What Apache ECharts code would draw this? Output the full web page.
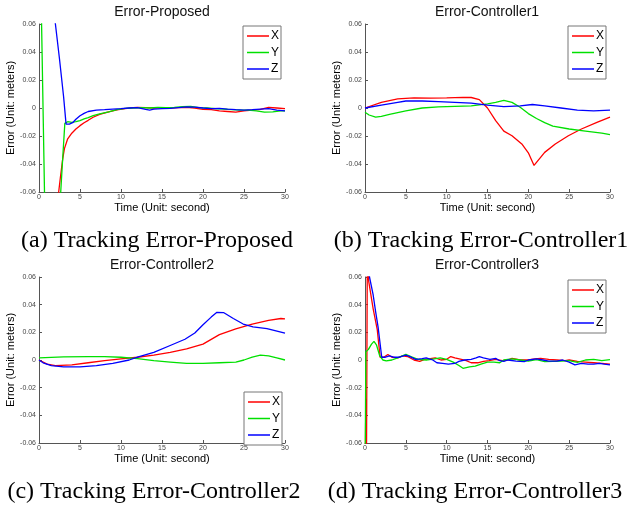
<!DOCTYPE html>
<html><head><meta charset="utf-8">
<script src="https://cdn.jsdelivr.net/npm/echarts/dist/echarts.min.js"></script>
<style>html,body{margin:0;padding:0;background:#fff}#c{width:629px;height:515px}</style>
</head><body><div id="c"></div>
<script>
// ---------- labels ----------
const panelTitles = ['Error-Proposed', 'Error-Controller1', 'Error-Controller2', 'Error-Controller3'];
const captions = ['(a) Tracking Error-Proposed', '(b) Tracking Error-Controller1', '(c) Tracking Error-Controller2', '(d) Tracking Error-Controller3'];
const seriesNames = ['X', 'Y', 'Z'];
const xTicks = [0, 5, 10, 15, 20, 25, 30];
const yTicks = [-0.06, -0.04, -0.02, 0, 0.02, 0.04, 0.06];
const xName = 'Time (Unit: second)';
const yName = 'Error (Unit: meters)';

// ---------- (a) Proposed ----------
const propXt = [2.3, 2.6, 2.9, 3.1, 3.5, 4, 4.5, 5, 5.5, 6, 6.6, 7.4, 8.5, 9.5, 10.5, 11.5, 12, 13, 14, 15, 16, 17, 18, 19, 20, 21, 22, 23, 24, 25, 26, 27, 28, 29, 30];
const propXv = [-0.065, -0.05, -0.036, -0.029, -0.022, -0.018, -0.015, -0.0126, -0.0105, -0.0088, -0.0066, -0.0045, -0.0028, -0.0013, -0.0004, 0.0002, 0.0004, 0.0002, 0.0, 0.0002, 0.0, 0.0003, 0.0005, 0.0, -0.001, -0.0012, -0.002, -0.0025, -0.003, -0.002, -0.0015, -0.001, 0.0004, 0.0, -0.0005];
const propYt = [0, 0.3, 0.7, 2.4, 2.65, 2.9, 3.15, 3.5, 4, 4.5, 5, 5.5, 6, 6.6, 7.4, 8.5, 9.5, 10.5, 11.5, 12.5, 13.5, 14.5, 15.5, 16.5, 17.5, 18.5, 19.5, 20.5, 21.5, 22.5, 23.5, 24.5, 25.5, 26.5, 27.5, 28.5, 29.5, 30];
const propYv = [0.08, 0.065, -0.07, -0.075, -0.06, -0.035, -0.011, -0.0098, -0.0102, -0.0098, -0.009, -0.0078, -0.0068, -0.0055, -0.0042, -0.0027, -0.0012, -0.0002, 0.0, 0.0003, 0.0, 0.0005, 0.0003, 0.0005, 0.001, 0.0012, 0.0003, 0.0, -0.0005, -0.0008, -0.0012, -0.0015, -0.0015, -0.002, -0.003, -0.0028, -0.002, -0.002];
const propZt = [1.9, 2.0, 2.5, 3.0, 3.3, 3.7, 4.1, 4.5, 5, 5.5, 6, 7, 8, 9, 10, 11, 12, 13, 13.5, 14, 15, 16, 17, 18, 19, 20, 21, 22, 23, 24, 25, 26, 27, 28, 29, 30];
const propZv = [0.065, 0.06, 0.035, 0.008, -0.0115, -0.0115, -0.0105, -0.008, -0.0055, -0.0038, -0.0025, -0.0015, -0.0012, -0.0008, -0.0005, 0.0, 0.0002, -0.001, -0.0015, -0.0008, -0.0005, -0.0002, 0.0003, 0.0008, 0.0006, 0.0, -0.0005, -0.0003, -0.0008, -0.0012, -0.0015, -0.0012, -0.0008, -0.0005, -0.0015, -0.002];

// ---------- (b) Controller1 ----------
const c1Xt = [0, 2, 4, 6, 8, 10, 12, 13, 14, 15, 16, 17, 18, 19.2, 20, 20.7, 22, 23.3, 24.9, 26.5, 28.4, 30];
const c1Xv = [0, 0.004, 0.0065, 0.0072, 0.007, 0.0072, 0.0076, 0.0075, 0.006, 0.0, -0.009, -0.0165, -0.0198, -0.0257, -0.032, -0.041, -0.0317, -0.0257, -0.0198, -0.015, -0.0102, -0.0065];
const c1Yt = [0, 0.5, 1.3, 2, 3, 5, 7, 9, 11, 13, 15, 16, 17, 18, 19, 20, 21, 22, 23, 25, 27, 29, 30];
const c1Yv = [-0.003, -0.005, -0.0065, -0.006, -0.0045, -0.002, 0.0, 0.0008, 0.0012, 0.0015, 0.003, 0.004, 0.0055, 0.004, 0.0005, -0.004, -0.0075, -0.0105, -0.013, -0.015, -0.0165, -0.018, -0.019];
const c1Zt = [0, 2, 4, 5, 7, 9, 11, 13, 15, 17, 19, 20.5, 22, 24, 26, 28, 30];
const c1Zv = [0, 0.002, 0.004, 0.005, 0.005, 0.0045, 0.004, 0.0035, 0.002, 0.001, 0.0015, 0.0025, 0.0015, 0.0, -0.0015, -0.002, -0.0015];

// ---------- (c) Controller2 ----------
const c2Xt = [0, 1, 2, 4, 6, 8, 10, 12, 14, 16, 18, 20, 22, 24, 26, 28, 29.5, 30];
const c2Xv = [0, -0.003, -0.004, -0.0035, -0.002, -0.0005, 0.0008, 0.002, 0.0035, 0.0055, 0.008, 0.0115, 0.0183, 0.0225, 0.026, 0.0287, 0.03, 0.0297];
const c2Yt = [0, 3, 6, 8, 10, 12, 14, 16, 18, 20, 22, 24, 25, 26, 27, 28, 29, 30];
const c2Yv = [0.0015, 0.0022, 0.0025, 0.0025, 0.002, 0.001, -0.0005, -0.0015, -0.0025, -0.0025, -0.002, -0.0015, 0.0, 0.002, 0.0035, 0.003, 0.0015, 0.0];
const c2Zt = [0, 0.5, 1.5, 3, 5, 7, 9, 11, 12, 14, 16, 17.8, 19, 20, 21, 21.7, 22.5, 23.7, 24.9, 26.1, 27.8, 30];
const c2Zv = [0, -0.002, -0.004, -0.005, -0.005, -0.004, -0.0025, 0.0, 0.002, 0.0055, 0.0105, 0.015, 0.0195, 0.0255, 0.031, 0.0345, 0.0343, 0.03, 0.026, 0.0239, 0.0227, 0.0195];

// ---------- (d) Controller3 ----------
const c3Xt = [0, 0.1, 0.18, 0.28, 0.45, 1.0, 1.5, 1.85, 2.3, 2.8, 3.3, 4, 4.6, 5.2, 6, 6.7, 7.3, 8, 8.6, 9.3, 10, 10.5, 11, 11.8, 12.4, 13, 13.8, 14.5, 15.2, 16, 16.8, 17.5, 18, 19, 20, 20.8, 21.5, 22.5, 23.5, 24.5, 25, 26, 27, 28, 29, 30];
const c3Xv = [-0.1, -0.028, -0.075, 0.07, 0.057, 0.037, 0.022, 0.002, 0.002, 0.004, 0.002, 0.0015, 0.003, 0.0025, 0.0, -0.001, 0.0005, 0.001, 0.0015, 0.0, 0.0005, 0.0025, 0.0015, 0.0005, -0.0005, -0.002, -0.002, -0.001, -0.0005, 0.0005, -0.0005, 0.0, 0.0012, 0.0, 0.0, 0.0008, 0.0012, 0.0005, 0.0, -0.0005, 0.0, -0.001, -0.0015, -0.002, -0.0025, -0.003];
const c3Yt = [0, 0.1, 0.4, 0.8, 1.1, 1.4, 1.8, 2.2, 2.6, 3.3, 4, 4.5, 5, 5.7, 6.5, 7.5, 8.5, 9.2, 10, 10.8, 11.5, 12, 12.8, 13.5, 14.2, 15, 15.8, 16.5, 17, 18, 19, 20, 21, 22, 23, 24, 25, 26, 27, 28, 29, 30];
const c3Yv = [-0.1, 0.006, 0.0075, 0.0115, 0.0135, 0.011, 0.003, 0.0, -0.0006, 0.0, 0.0015, 0.0028, 0.004, 0.0022, 0.0005, 0.0, 0.0008, 0.0015, 0.0005, -0.0015, -0.004, -0.006, -0.005, -0.0045, -0.003, -0.0015, -0.0015, -0.002, 0.0, 0.0008, 0.0, -0.0008, 0.0002, -0.0012, -0.001, -0.0008, -0.0005, -0.0018, 0.0, 0.0005, -0.0005, 0.0003];
const c3Zt = [0.45, 0.55, 1.0, 1.3, 1.6, 2.05, 2.5, 3, 3.5, 4.2, 5, 5.5, 6.2, 7, 7.5, 8.3, 8.8, 9.5, 10.2, 11, 11.5, 12.2, 13, 13.6, 14, 14.5, 15.3, 16, 16.5, 17, 17.5, 18.5, 19.5, 20, 21, 21.8, 22.5, 23.5, 24.2, 25, 25.7, 26.5, 27.3, 28, 28.7, 29.3, 30];
const c3Zv = [0.065, 0.06, 0.047, 0.035, 0.024, 0.002, 0.002, 0.003, 0.002, 0.002, 0.0035, 0.0025, 0.0005, 0.001, 0.0015, 0.0, -0.002, -0.0025, -0.003, -0.0025, -0.001, 0.0, 0.0005, 0.0015, 0.0025, 0.0015, 0.0005, 0.0012, -0.0005, -0.001, 0.0, -0.0008, -0.0012, 0.0, 0.0008, 0.0, -0.0008, -0.0008, 0.0, -0.0015, -0.0035, -0.0025, -0.003, -0.003, -0.0025, -0.003, -0.0035];

// ---------- layout ----------
const colors = ['#ff0000', '#00e000', '#0000ff'];
const sans = '"Liberation Sans", Arial, sans-serif';
const serif = '"Liberation Serif", "Times New Roman", serif';
const zip = (t, v) => t.map((x, i) => [x, v[i]]);
const panelData = [
  [[propXt, propXv], [propYt, propYv], [propZt, propZv]],
  [[c1Xt, c1Xv], [c1Yt, c1Yv], [c1Zt, c1Zv]],
  [[c2Xt, c2Xv], [c2Yt, c2Yv], [c2Zt, c2Zv]],
  [[c3Xt, c3Xv], [c3Yt, c3Yv], [c3Zt, c3Zv]]
];
const grids = [
  {left: 39, top: 24, width: 246, height: 168},
  {left: 365, top: 24, width: 245, height: 168},
  {left: 39, top: 277, width: 246, height: 166},
  {left: 365, top: 277, width: 245, height: 166}
];
const legendPos = [
  {left: 243, top: 26}, {left: 568, top: 26}, {left: 244, top: 392}, {left: 568, top: 280}
];
const titlePos = [[162, 12], [487, 12], [162, 265], [487, 265]];
const captionPos = [[157, 241], [481, 241], [154, 492], [475, 492]];

const option = {
  animation: false,
  backgroundColor: '#fff',
  grid: grids.map(g => Object.assign({containLabel: false}, g)),
  xAxis: grids.map((g, i) => ({
    type: 'value', gridIndex: i, min: xTicks[0], max: xTicks[xTicks.length - 1], interval: 5,
    name: xName, nameLocation: 'middle', nameGap: 10,
    nameTextStyle: {fontSize: 11, color: '#000', fontFamily: sans},
    axisLine: {show: true, onZero: false, lineStyle: {color: '#555', width: 1}},
    axisTick: {show: true, inside: true, length: 3, lineStyle: {color: '#555'}},
    axisLabel: {fontSize: 7, color: '#444', margin: 2, fontFamily: sans},
    splitLine: {show: false}
  })),
  yAxis: grids.map((g, i) => ({
    type: 'value', gridIndex: i, min: yTicks[0], max: yTicks[yTicks.length - 1], interval: 0.02,
    name: yName, nameLocation: 'middle', nameGap: 20, nameRotate: 90,
    nameTextStyle: {fontSize: 11, color: '#000', fontFamily: sans},
    axisLine: {show: true, onZero: false, lineStyle: {color: '#555', width: 1}},
    axisTick: {show: true, inside: true, length: 3, lineStyle: {color: '#555'}},
    axisLabel: {fontSize: 7, color: '#444', margin: 3, fontFamily: sans,
      formatter: v => Math.abs(v) < 1e-9 ? '0' : v.toFixed(2)},
    splitLine: {show: false}
  })),
  legend: legendPos.map(p => ({
    left: p.left, top: p.top, orient: 'vertical', data: seriesNames, selectedMode: false,
    icon: 'rect', itemWidth: 22, itemHeight: 1.5, itemGap: 2.5, padding: [3, 2, 3, 4],
    borderColor: '#777', borderWidth: 1, backgroundColor: '#fff', borderRadius: 0,
    textStyle: {fontSize: 12, lineHeight: 14, color: '#000', fontFamily: sans, padding: [0, 0, 0, -3]}
  })),
  series: [],
  graphic: []
};
panelData.forEach((panel, pi) => {
  panel.forEach((s, si) => {
    option.series.push({
      type: 'line', name: seriesNames[si], xAxisIndex: pi, yAxisIndex: pi,
      data: zip(s[0], s[1]), symbol: 'none', showSymbol: false, clip: true,
      lineStyle: {color: colors[si], width: 1.3}, itemStyle: {color: colors[si]},
      z: 2 + si
    });
  });
  option.graphic.push({
    type: 'text', x: titlePos[pi][0], y: titlePos[pi][1],
    style: {text: panelTitles[pi], fontSize: 14, fontFamily: sans, fill: '#111', align: 'center', verticalAlign: 'middle'}
  });
  option.graphic.push({
    type: 'text', x: captionPos[pi][0], y: captionPos[pi][1],
    style: {text: captions[pi], fontSize: 24, fontFamily: serif, fill: '#000', align: 'center', verticalAlign: 'middle'}
  });
});
const chart = echarts.init(document.getElementById('c'), null, {renderer: 'canvas'});
chart.setOption(option);
</script></body></html>
